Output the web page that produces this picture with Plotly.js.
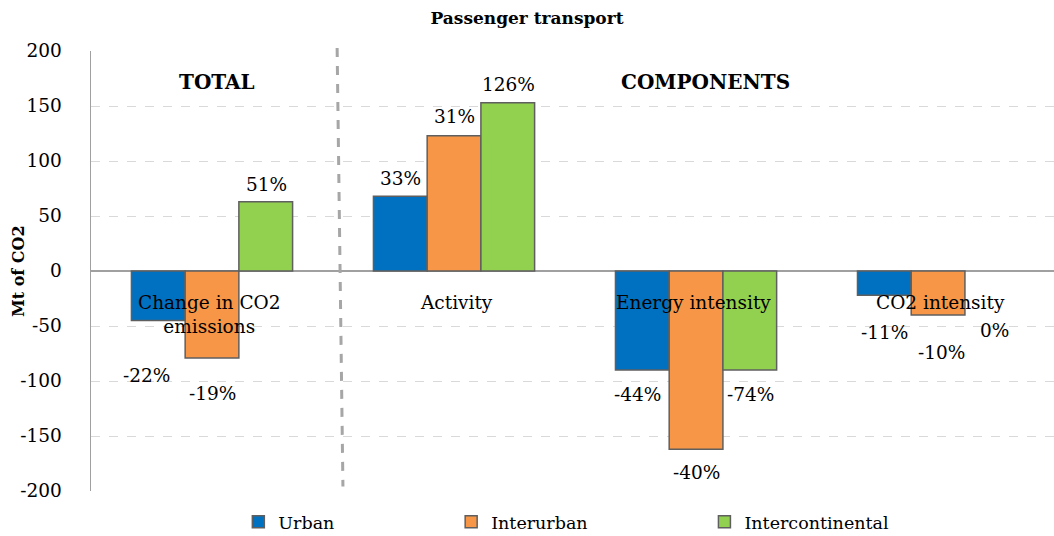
<!DOCTYPE html>
<html>
<head>
<meta charset="utf-8">
<script src="https://cdn.plot.ly/plotly-3.0.1.min.js"></script>
<style>html,body{margin:0;padding:0;background:#fff;}#chart{width:1054px;height:536px;}</style>
</head>
<body>
<div id="chart"></div>
<script>
// ---- data ----
const categories = ["Change in CO2<br>emissions", "Activity", "Energy intensity", "CO2 intensity"];
const seriesNames = ["Urban", "Interurban", "Intercontinental"];
const urban = [-45, 68, -90, -22];
const interurban = [-79, 123, -162, -40];
const intercontinental = [63, 153, -90, 0];
const urbanPct = ["-22%", "33%", "-44%", "-11%"];
const interurbanPct = ["-19%", "31%", "-40%", "-10%"];
const intercontinentalPct = ["51%", "126%", "-74%", "0%"];
const yTicks = [-200, -150, -100, -50, 0, 50, 100, 150, 200];

// ---- style ----
const colors = ["#0070C0", "#F79646", "#92D050"];
const FONT = "DejaVu Serif";
const catIdx = [0, 1, 2, 3];
const seriesVals = [urban, interurban, intercontinental];
const seriesPct = [urbanPct, interurbanPct, intercontinentalPct];
const barShift = [-54, 0, 54];
// vertical nudges of value labels (pixels, relative to bar end)
const labelDy = [
  [-55, 18, -24, -37],
  [-36, 19, -23, -37],
  [17, 18, -24, -59]
];
const labelDx = [
  [-12, 0, -5, 0],
  [0, 0, 0, 3],
  [0, 0, 0, 2]
];

const legendX = [0.153, 0.374, 0.637];

const traces = seriesVals.map((vals, s) => ({
  type: "bar",
  name: seriesNames[s],
  x: catIdx,
  y: vals,
  marker: {color: colors[s], line: {color: "#5f5f5f", width: vals.map(v => v === 0 ? 0 : 1.5)}},
  legend: s === 0 ? "legend" : "legend" + (s + 1),
  hoverinfo: "skip"
}));

const annotations = [];
seriesVals.forEach((vals, s) => {
  vals.forEach((v, i) => {
    annotations.push({
      x: catIdx[i], y: v, xref: "x", yref: "y",
      text: seriesPct[s][i], showarrow: false,
      xshift: barShift[s] + labelDx[s][i], yshift: labelDy[s][i],
      xanchor: "center", yanchor: "middle",
      font: {family: FONT, size: 18.5, color: "#000"}
    });
  });
});
categories.forEach((c, i) => {
  annotations.push({
    x: catIdx[i], y: 0, xref: "x", yref: "y",
    text: c, showarrow: false, xanchor: "center", yanchor: "top",
    yshift: -19, xshift: i === 0 ? -3 : (i === 2 ? -3 : 2),
    font: {family: FONT, size: 18.5, color: "#000"}
  });
});
annotations.push({
  x: 0.02, y: 172, xref: "x", yref: "y", text: "<b>TOTAL</b>", showarrow: false,
  font: {family: FONT, size: 20, color: "#000"}
});
annotations.push({
  x: 2.04, y: 172, xref: "x", yref: "y", text: "<b>COMPONENTS</b>", showarrow: false,
  font: {family: FONT, size: 20, color: "#000"}
});
annotations.push({
  x: -0.0758, y: 0.5, xref: "paper", yref: "paper", text: "<b>Mt of CO2</b>", showarrow: false,
  textangle: -90, xanchor: "center", yanchor: "middle",
  font: {family: FONT, size: 16, color: "#000"}
});

const legendBase = {
  orientation: "h", y: -0.07, yanchor: "middle", xanchor: "left",
  font: {family: FONT, size: 17.5, color: "#000"}, bgcolor: "rgba(0,0,0,0)",
  itemwidth: 30, tracegroupgap: 0
};

const layout = {
  width: 1054, height: 536,
  margin: {l: 91, r: 0, t: 51, b: 45, autoexpand: false},
  paper_bgcolor: "#fff", plot_bgcolor: "#fff",
  title: {text: "<b>Passenger transport</b>", x: 0.5, xanchor: "center", y: 0.966, yanchor: "middle",
          font: {family: FONT, size: 17, color: "#000"}},
  barmode: "group", bargap: 0.334, bargroupgap: 0,
  xaxis: {
    range: [-0.5, 3.479], showticklabels: false, showgrid: false, zeroline: false,
    showline: false, ticks: "", fixedrange: true
  },
  yaxis: {
    range: [-200, 200], tickvals: yTicks, ticktext: yTicks.map(String),
    showgrid: true, gridcolor: "#d9d9d9", griddash: "dash", gridwidth: 1,
    zeroline: true, zerolinecolor: "#a0a0a0", zerolinewidth: 1.5,
    showline: true, linecolor: "#a0a0a0", linewidth: 1.5,
    ticks: "", ticklabelstandoff: 24,
    tickfont: {family: FONT, size: 18.5, color: "#000"},
    fixedrange: true
  },
  showlegend: true,
  legend: Object.assign({}, legendBase, {x: legendX[0]}),
  legend2: Object.assign({}, legendBase, {x: legendX[1]}),
  legend3: Object.assign({}, legendBase, {x: legendX[2]}),
  shapes: [{
    type: "line", xref: "x", yref: "paper", x0: 0.517, x1: 0.541, y0: 1.007, y1: 0.01,
    line: {color: "#a6a6a6", width: 3, dash: "dash"}
  }],
  annotations: annotations
};

Plotly.newPlot("chart", traces, layout, {displayModeBar: false, staticPlot: true});
</script>
</body>
</html>
